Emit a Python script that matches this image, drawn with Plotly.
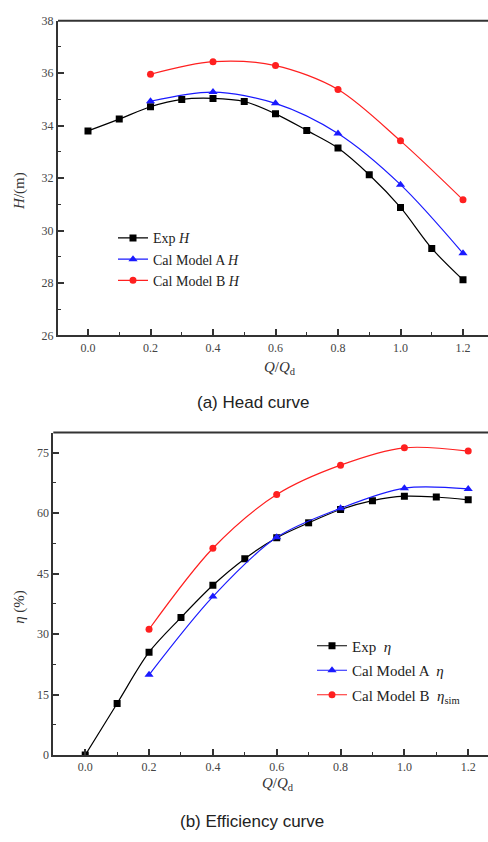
import plotly.graph_objects as go

# ---- data ----
q_exp = [0.0, 0.1, 0.2, 0.3, 0.4, 0.5, 0.6, 0.7, 0.8, 0.9, 1.0, 1.1, 1.2]
h_exp = [33.8, 34.25, 34.72, 35.0, 35.04, 34.92, 34.45, 33.82, 33.15, 32.13, 30.88, 29.32, 28.12]
q_cal = [0.2, 0.4, 0.6, 0.8, 1.0, 1.2]
h_model_a = [34.93, 35.28, 34.85, 33.70, 31.75, 29.13]
h_model_b = [35.96, 36.44, 36.29, 35.38, 33.42, 31.17]

eta_exp = [0.0, 12.8, 25.5, 34.1, 42.1, 48.7, 53.9, 57.6, 60.9, 63.1, 64.2, 64.0, 63.3]
eta_model_a = [19.9, 39.3, 54.0, 61.2, 66.2, 66.0]
eta_model_b = [31.2, 51.3, 64.6, 71.9, 76.2, 75.4]

x_ticks = [0.0, 0.2, 0.4, 0.6, 0.8, 1.0, 1.2]
h_ticks = [26, 28, 30, 32, 34, 36, 38]
eta_ticks = [0, 15, 30, 45, 60, 75]

W, H = 488, 842
SERIF = "Liberation Serif, Times New Roman, serif"
SANS = "Liberation Sans, Arial, sans-serif"
AX = "#333333"

fig = go.Figure()

def add(x, y, name, color, symbol, size, xa, ya, legend, group):
    fig.add_trace(go.Scatter(
        x=x, y=y, name=name, mode="lines+markers",
        line=dict(color=color, width=1.2, shape="spline", smoothing=0.9),
        marker=dict(color=color, symbol=symbol, size=size),
        xaxis=xa, yaxis=ya, legend=legend, legendgroup=group))

add(q_exp, h_exp, "Exp <i>H</i>", "black", "square", 7, "x", "y", "legend", "a1")
add(q_cal, h_model_a, "Cal Model A <i>H</i>", "#1a1aff", "triangle-up", 8, "x", "y", "legend", "a2")
add(q_cal, h_model_b, "Cal Model B <i>H</i>", "#ff2020", "circle", 7, "x", "y", "legend", "a3")

add(q_exp, eta_exp, "Exp  <i>η</i>", "black", "square", 7, "x2", "y2", "legend2", "b1")
add(q_cal, eta_model_a, "Cal Model A  <i>η</i>", "#1a1aff", "triangle-up", 8, "x2", "y2", "legend2", "b2")
add(q_cal, eta_model_b, "Cal Model B  <i>η</i><sub>sim</sub>", "#ff2020", "circle", 7, "x2", "y2", "legend2", "b3")

def py(px):
    return 1 - px / H

top_dom = [py(334), py(14)]
bot_dom = [py(760.7), py(432.7)]

xcommon = dict(showgrid=False, zeroline=False, showline=True, linecolor=AX, linewidth=2,
               ticks="inside", ticklen=6, tickwidth=1.5, tickcolor=AX,
               tickvals=x_ticks, ticktext=[f"{v:.1f}" for v in x_ticks],
               tickfont=dict(family=SERIF, size=12, color="#444"),
               minor=dict(dtick=0.1, tick0=0, ticks="inside", ticklen=3, tickwidth=1.2, tickcolor=AX))
ycommon = dict(showgrid=False, zeroline=False, showline=True, linecolor=AX, linewidth=2,
               ticks="inside", ticklen=6, tickwidth=1.5, tickcolor=AX,
               tickfont=dict(family=SERIF, size=12, color="#444"))

fig.update_layout(
    width=W, height=H, margin=dict(l=0, r=0, t=0, b=0),
    paper_bgcolor="white", plot_bgcolor="white", showlegend=True,
    xaxis=dict(domain=[58 / W, 1], range=[-0.096, 1.28], anchor="y", **xcommon),
    yaxis=dict(domain=top_dom, range=[26, 38], anchor="x", tickvals=h_ticks,
               minor=dict(dtick=1, tick0=26, ticks="inside", ticklen=3, tickwidth=1.2, tickcolor=AX),
               **ycommon),
    xaxis2=dict(domain=[53.3 / W, 1], range=[-0.1, 1.262], anchor="y2", **xcommon),
    yaxis2=dict(domain=bot_dom, range=[0, 80], anchor="x2", tickvals=eta_ticks,
                minor=dict(dtick=7.5, tick0=0, ticks="inside", ticklen=3, tickwidth=1.2, tickcolor=AX),
                **ycommon),
    legend=dict(x=113 / W, y=py(219), xanchor="left", yanchor="top",
                bgcolor="rgba(0,0,0,0)", font=dict(family=SERIF, size=14, color="#222"),
                itemwidth=30, tracegroupgap=0),
    legend2=dict(x=312 / W, y=py(633), xanchor="left", yanchor="top",
                 bgcolor="rgba(0,0,0,0)", font=dict(family=SERIF, size=15, color="#222"),
                 itemwidth=30, tracegroupgap=2),
)

# top frame lines
for dom_x, y_top in [([58 / W, 1], top_dom[1]), ([53.3 / W, 1], bot_dom[1])]:
    fig.add_shape(type="line", xref="paper", yref="paper", x0=dom_x[0], x1=dom_x[1],
                  y0=y_top, y1=y_top, line=dict(color=AX, width=2))

ann = [
    dict(text="<i>Q</i>/<i>Q</i><sub>d</sub>", x=280 / W, y=py(367),
         font=dict(family=SERIF, size=15, color="#333")),
    dict(text="<i>Q</i>/<i>Q</i><sub>d</sub>", x=278 / W, y=py(790),
         font=dict(family=SERIF, size=15, color="#333")),
    dict(text="<i>H</i>/(m)", x=20 / W, y=py(187), textangle=-90,
         font=dict(family=SERIF, size=15, color="#333")),
    dict(text="<i>η</i> (%)", x=20 / W, y=py(610), textangle=-90,
         font=dict(family=SERIF, size=15, color="#333")),
    dict(text="(a) Head curve", x=253 / W, y=py(402),
         font=dict(family=SANS, size=17, color="#222")),
    dict(text="(b) Efficiency curve", x=252 / W, y=py(828),
         font=dict(family=SANS, size=17, color="#222")),
]
for a in ann:
    fig.add_annotation(xref="paper", yref="paper", showarrow=False,
                       xanchor="center", yanchor="middle", **a)

fig.write_html("out.html", config={"displayModeBar": False},
               post_script="document.body.style.margin='0';document.body.style.overflow='hidden';")
